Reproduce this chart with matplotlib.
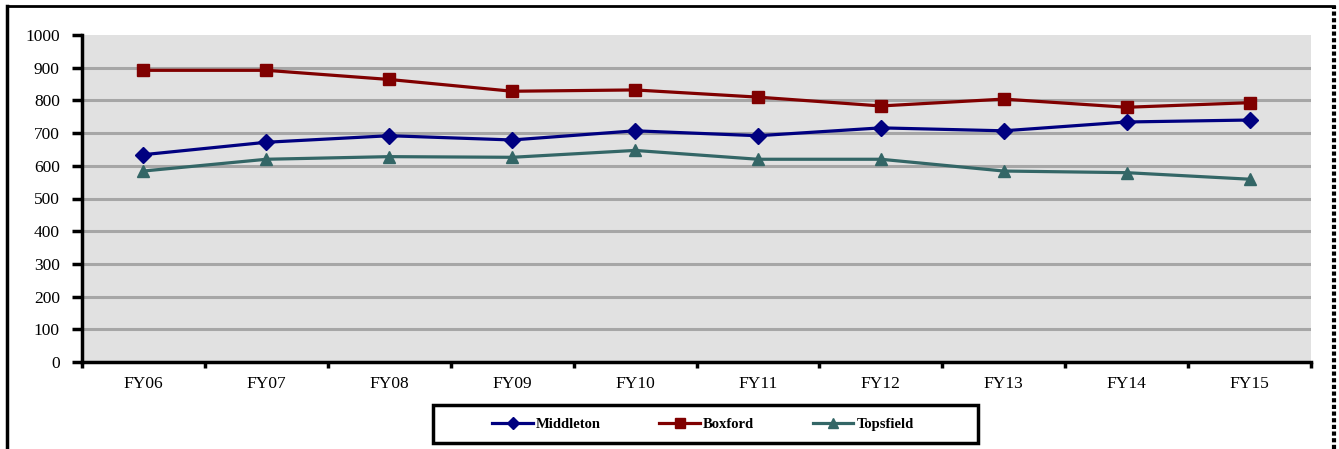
import matplotlib
matplotlib.use("Agg")
import matplotlib.pyplot as plt
from matplotlib.lines import Line2D
from matplotlib.patches import Rectangle
import numpy as np

# enrollment by town, FY06 - FY15
years = ["FY06", "FY07", "FY08", "FY09", "FY10", "FY11", "FY12", "FY13", "FY14", "FY15"]
middleton = [634, 672, 692, 679, 707, 692, 716, 707, 734, 740]
boxford = [892, 892, 864, 828, 832, 810, 783, 804, 779, 793]
topsfield = [584, 620, 628, 626, 647, 620, 620, 584, 579, 559]

W, H = 1339, 449
fig = plt.figure(figsize=(W / 100, H / 100), dpi=100)
plt.rcParams['font.family'] = ['Liberation Serif', 'DejaVu Serif']

# plot area in pixel coordinates
left, right, top, bottom = 82, 1311, 35, 362
ax = fig.add_axes([left / W, 1 - bottom / H, (right - left) / W, (bottom - top) / H])
ax.set_facecolor("#e1e1e1")

x = np.arange(len(years))
ax.plot(x, middleton, color="#000080", lw=2.3, marker="D", ms=8, label="Middleton", zorder=4)
ax.plot(x, boxford, color="#800000", lw=2.3, marker="s", ms=9, label="Boxford", zorder=4)
ax.plot(x, topsfield, color="#336666", lw=2.3, marker="^", ms=9, label="Topsfield", zorder=4)

ax.set_xlim(-0.5, len(years) - 0.5)
ax.set_ylim(0, 1000)
ax.set_yticks(range(0, 1001, 100))
ax.yaxis.grid(True, color="#a6a6a6", lw=2.2)
ax.yaxis.get_gridlines()[-1].set_visible(False)
ax.set_axisbelow(True)

# category boundaries get the tick marks, names sit between them
ax.set_xticks(np.arange(len(years) + 1) - 0.5)
ax.set_xticklabels([])
ax.set_xticks(x, minor=True)
ax.set_xticklabels(years, minor=True, fontsize=12.5)
ax.tick_params(axis="x", which="major", direction="out", length=4, width=2.5)
ax.tick_params(axis="x", which="minor", length=0, pad=10)
ax.tick_params(axis="y", direction="out", length=7, width=2.5, labelsize=12.5, pad=9)

for s in ("top", "right"):
    ax.spines[s].set_visible(False)
for s in ("left", "bottom"):
    ax.spines[s].set_linewidth(2.5)
    ax.spines[s].set_zorder(5)

# legend box
fig.patches.append(Rectangle((433 / W, 1 - 443 / H), (978 - 433) / W, (443 - 405) / H,
                             transform=fig.transFigure, fill=False, ec="black", lw=2.5))
fig.legend(loc="center", bbox_to_anchor=(703 / W, 1 - 424 / H), ncol=3, frameon=False,
           prop={"weight": "bold", "size": 10.5}, handlelength=2.8, handletextpad=0.2,
           columnspacing=4.0, markerscale=0.75)

# outer chart border
fig.add_artist(Line2D([7 / W, 7 / W], [0, 1 - 6 / H], transform=fig.transFigure, color="black", lw=2.5))
fig.add_artist(Line2D([7 / W, 1334 / W], [1 - 6 / H, 1 - 6 / H], transform=fig.transFigure, color="black", lw=2))
fig.add_artist(Line2D([1334 / W, 1334 / W], [0, 1 - 6 / H], transform=fig.transFigure, color="black",
                      lw=3, ls=(0, (1, 0.6))))

fig.savefig("out.png", dpi=100)
